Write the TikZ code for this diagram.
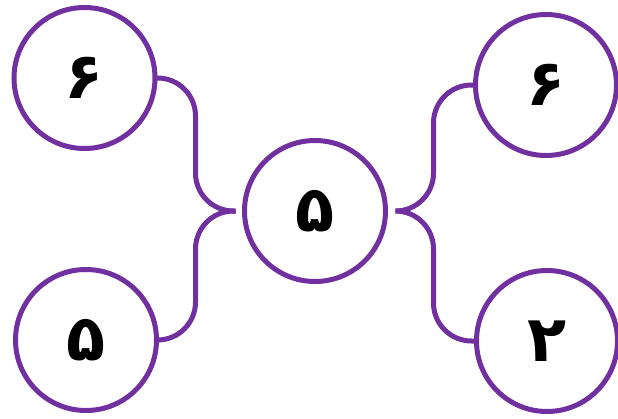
\documentclass[tikz,border=0pt]{standalone}
\usepackage{fontspec}
\newfontfamily\arabicfont[Script=Arabic]{DejaVu Sans}
\usetikzlibrary{calc}
\definecolor{mapaMorado}{RGB}{112, 48, 160}

\begin{document}
\begin{tikzpicture}[x=1pt, y=-1pt,
        num/.style={circle, draw=mapaMorado, line width=5pt, minimum size=141pt, inner sep=0pt, outer sep=0pt, font=\arabicfont\bfseries\fontsize{64}{64}\selectfont},
        rama/.style={draw=mapaMorado, line width=5pt, rounded corners=38pt}]

        \useasboundingbox (0,0) rectangle (618,418);

        \node[num] (c) at (315,211) {۵};
        \node[num] (tl) at (84.5,78) {۶};
        \node[num] (bl) at (86,340) {۵};
        \node[num] (tr) at (546,85) {۶};
        \node[num] (br) at (547,341) {۲};

        \coordinate (ltip) at ($(c.west)+(-9,0)$);
        \coordinate (rtip) at ($(c.east)+(10,0)$);

        \draw[rama] (tl.east) -| ($(ltip)+(-40,0)$) -- (ltip);
        \draw[rama] (bl.east) -| ($(ltip)+(-40,0)$) -- (ltip);
        \draw[rama] (tr.west) -| ($(rtip)+(38,0)$) -- (rtip);
        \draw[rama] (br.west) -| ($(rtip)+(38,0)$) -- (rtip);
    \end{tikzpicture}
\end{document}
